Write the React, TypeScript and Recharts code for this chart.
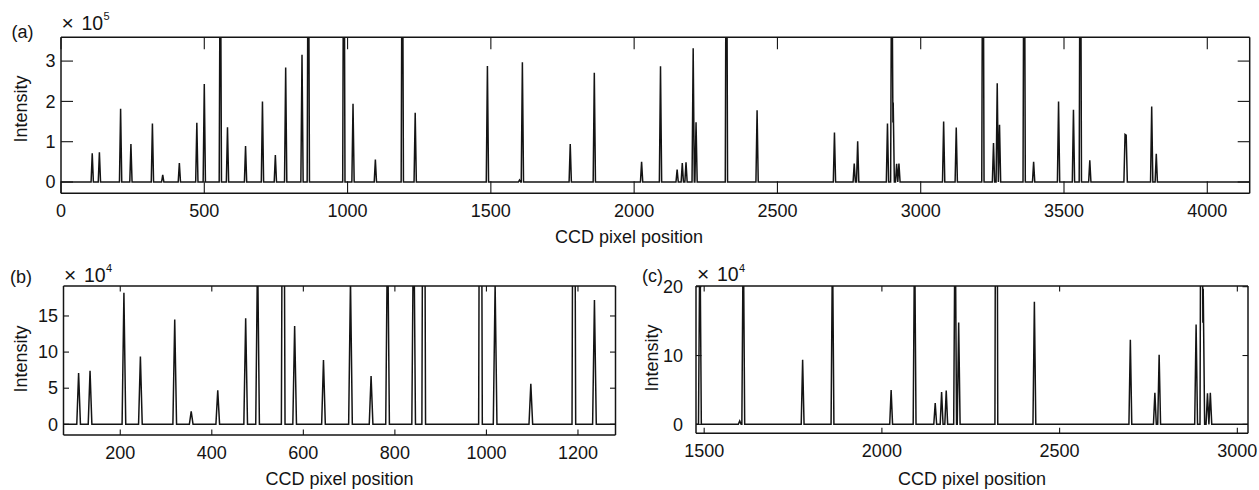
import React from 'react';
import { LineChart, Line, XAxis, YAxis } from 'recharts';

// ---- data (CCD pixel position, peak intensity) ----
const PEAK_POSITIONS = [
  109, 134, 208, 244, 319, 355, 413, 474, 500, 556, 581, 644, 703, 748, 784, 841, 863, 987, 1019,
  1097, 1191, 1236, 1488, 1600, 1610, 1777, 1861, 2026, 2092, 2150, 2168, 2181, 2206, 2216, 2322,
  2429, 2699, 2768, 2780, 2884, 2899, 2904, 2916, 2924, 3080, 3124, 3217, 3254, 3267, 3275, 3361,
  3394, 3481, 3533, 3557, 3590, 3713, 3717, 3806, 3822,
];
const PEAK_HEIGHTS = [
  71000, 74000, 182000, 94000, 145000, 18000, 47000, 147000, 243000, 700000, 136000, 89000, 200000,
  67000, 284000, 316000, 800000, 900000, 194000,
  56000, 800000, 172000, 288000, 5000, 297000, 94000, 271000, 50000, 287000, 31000, 47000, 49000,
  332000, 148000, 900000,
  178000, 123000, 46000, 101000, 145000, 700000, 197000, 45000, 46000, 150000, 135000, 900000,
  97000, 245000, 142000, 900000,
  50000, 200000, 179000, 900000, 54000, 118000, 116000, 187000, 70000,
];
const PEAK_HALF_WIDTH = 4;
const PIXEL_RANGE = [0, 4148];

const TICKS_A_X = [0, 500, 1000, 1500, 2000, 2500, 3000, 3500, 4000];
const TICKS_A_Y = [0, 100000, 200000, 300000];
const TICKS_B_X = [200, 400, 600, 800, 1000, 1200];
const TICKS_B_Y = [0, 50000, 100000, 150000];
const TICKS_C_X = [1500, 2000, 2500, 3000];
const TICKS_C_Y = [0, 100000, 200000];

const X_TITLE = 'CCD pixel position';
const Y_TITLE = 'Intensity';

// ---- build spectrum (piecewise-linear peaks on a zero baseline) ----
function buildSpectrum() {
  const xs = new Set<number>([PIXEL_RANGE[0], PIXEL_RANGE[1]]);
  PEAK_POSITIONS.forEach((p) => {
    xs.add(p - PEAK_HALF_WIDTH);
    xs.add(p);
    xs.add(p + PEAK_HALF_WIDTH);
  });
  const sorted = Array.from(xs).sort((a, b) => a - b);
  return sorted.map((x) => ({
    x,
    y: PEAK_POSITIONS.reduce(
      (s, p, i) => s + Math.max(0, PEAK_HEIGHTS[i] * (1 - Math.abs(x - p) / PEAK_HALF_WIDTH)),
      0
    ),
  }));
}
const SPECTRUM = buildSpectrum();

const FONT = '"Liberation Sans", Arial, Helvetica, sans-serif';
const INK = '#141414';
const W = 1259;
const H = 490;
const YAXIS_W = 50;
const XAXIS_H = 30;

type PanelCfg = {
  plot: { left: number; top: number; right: number; bottom: number };
  xDomain: [number, number];
  yDomain: [number, number];
  xTicks: number[];
  yTicks: number[];
  yScale: number;
  tickLen: number;
  yLabelGap: number;
};

function Panel({ cfg }: { cfg: PanelCfg }) {
  const { plot, tickLen } = cfg;
  const margin = {
    left: plot.left - YAXIS_W,
    right: W - plot.right - 1,
    top: plot.top - 1,
    bottom: H - plot.bottom - XAXIS_H,
  };
  const axisLine = { stroke: INK, strokeWidth: 1.5 };
  const bottomTick = (props: any) => {
    const { x, y, payload } = props;
    return (
      <g>
        <line x1={x} y1={y} x2={x} y2={y - tickLen} stroke={INK} strokeWidth={1.1} />
        <text x={x} y={y + 23.5} textAnchor="middle" fontSize={18} fontFamily={FONT} fill={INK}>
          {payload.value}
        </text>
      </g>
    );
  };
  const topTick = (props: any) => {
    const { x, y } = props;
    return <line x1={x} y1={y} x2={x} y2={y + tickLen} stroke={INK} strokeWidth={1.1} />;
  };
  const leftTick = (props: any) => {
    const { x, y, payload } = props;
    return (
      <g>
        <line x1={x} y1={y} x2={x + tickLen} y2={y} stroke={INK} strokeWidth={1.1} />
        <text
          x={x - cfg.yLabelGap}
          y={y}
          dy="0.35em"
          textAnchor="end"
          fontSize={18}
          fontFamily={FONT}
          fill={INK}
        >
          {Math.round(payload.value / cfg.yScale)}
        </text>
      </g>
    );
  };
  const rightTick = (props: any) => {
    const { x, y } = props;
    return <line x1={x} y1={y} x2={x - tickLen} y2={y} stroke={INK} strokeWidth={1.1} />;
  };
  return (
    <div style={{ position: 'absolute', left: 0, top: 0 }}>
      <LineChart width={W} height={H} data={SPECTRUM} margin={margin}>
        <XAxis
          xAxisId="b"
          dataKey="x"
          type="number"
          orientation="bottom"
          domain={cfg.xDomain}
          allowDataOverflow
          ticks={cfg.xTicks}
          interval={0}
          height={XAXIS_H}
          tickSize={0}
          tickMargin={0}
          tickLine={false}
          axisLine={axisLine}
          tick={bottomTick}
        />
        <XAxis
          xAxisId="t"
          dataKey="x"
          type="number"
          orientation="top"
          domain={cfg.xDomain}
          allowDataOverflow
          ticks={cfg.xTicks}
          interval={0}
          height={1}
          tickSize={0}
          tickMargin={0}
          tickLine={false}
          axisLine={axisLine}
          tick={topTick}
        />
        <YAxis
          yAxisId="l"
          type="number"
          orientation="left"
          domain={cfg.yDomain}
          allowDataOverflow
          ticks={cfg.yTicks}
          interval={0}
          width={YAXIS_W}
          tickSize={0}
          tickMargin={0}
          tickLine={false}
          axisLine={axisLine}
          tick={leftTick}
        />
        <YAxis
          yAxisId="r"
          type="number"
          orientation="right"
          domain={cfg.yDomain}
          allowDataOverflow
          ticks={cfg.yTicks}
          interval={0}
          width={1}
          tickSize={0}
          tickMargin={0}
          tickLine={false}
          axisLine={axisLine}
          tick={rightTick}
        />
        <Line
          xAxisId="b"
          yAxisId="l"
          type="linear"
          dataKey="y"
          stroke={INK}
          strokeWidth={1.5}
          dot={false}
          isAnimationActive={false}
        />
      </LineChart>
    </div>
  );
}

const PANEL_A: PanelCfg = {
  plot: { left: 61, top: 37.3, right: 1249.7, bottom: 193.3 },
  xDomain: [PIXEL_RANGE[0], PIXEL_RANGE[1]],
  yDomain: [-28000, 359000],
  xTicks: TICKS_A_X,
  yTicks: TICKS_A_Y,
  yScale: 100000,
  tickLen: 12,
  yLabelGap: 5.5,
};
const PANEL_B: PanelCfg = {
  plot: { left: 63.5, top: 286, right: 615.5, bottom: 435 },
  xDomain: [76, 1282],
  yDomain: [-14800, 191500],
  xTicks: TICKS_B_X,
  yTicks: TICKS_B_Y,
  yScale: 10000,
  tickLen: 5.5,
  yLabelGap: 5.5,
};
const PANEL_C: PanelCfg = {
  plot: { left: 696, top: 286, right: 1248, bottom: 433.3 },
  xDomain: [1477, 3030],
  yDomain: [-13000, 201000],
  xTicks: TICKS_C_X,
  yTicks: TICKS_C_Y,
  yScale: 10000,
  tickLen: 5.5,
  yLabelGap: 13,
};

function Titles() {
  const t = { fontFamily: FONT, fill: INK } as const;
  const exp = (x: number, y: number, e: string) => (
    <text y={y} {...t}>
      <tspan x={x} fontSize={21}>{'\u00d7'}</tspan>
      <tspan x={x + 20} fontSize={19.5}>10</tspan>
      <tspan x={x + 42} dy={-9.5} fontSize={11}>
        {e}
      </tspan>
    </text>
  );
  const ylab = (x: number, y: number) => (
    <text x={x} y={y} fontSize={18} textAnchor="middle" transform={`rotate(-90 ${x} ${y})`} {...t}>
      {Y_TITLE}
    </text>
  );
  const xlab = (x: number, y: number) => (
    <text x={x} y={y} fontSize={18} textAnchor="middle" {...t}>
      {X_TITLE}
    </text>
  );
  return (
    <svg
      width={W}
      height={H}
      style={{ position: 'absolute', left: 0, top: 0, pointerEvents: 'none' }}
    >
      <text x={11.5} y={38} fontSize={18} {...t}>(a)</text>
      {exp(61.5, 29.5, '5')}
      {ylab(27, 109)}
      {xlab(629, 243)}

      <text x={10} y={283} fontSize={18} {...t}>(b)</text>
      {exp(64, 281.5, '4')}
      {ylab(27, 359)}
      {xlab(339.5, 484.5)}

      <text x={642} y={282} fontSize={18} {...t}>(c)</text>
      {exp(697, 281, '4')}
      {ylab(658, 358)}
      {xlab(972, 484.5)}
    </svg>
  );
}

export default function App() {
  return (
    <div
      style={{
        position: 'absolute',
        left: 0,
        top: 0,
        width: W,
        height: H,
        background: '#fff',
        overflow: 'hidden',
      }}
    >
      <Panel cfg={PANEL_A} />
      <Panel cfg={PANEL_B} />
      <Panel cfg={PANEL_C} />
      <Titles />
    </div>
  );
}
